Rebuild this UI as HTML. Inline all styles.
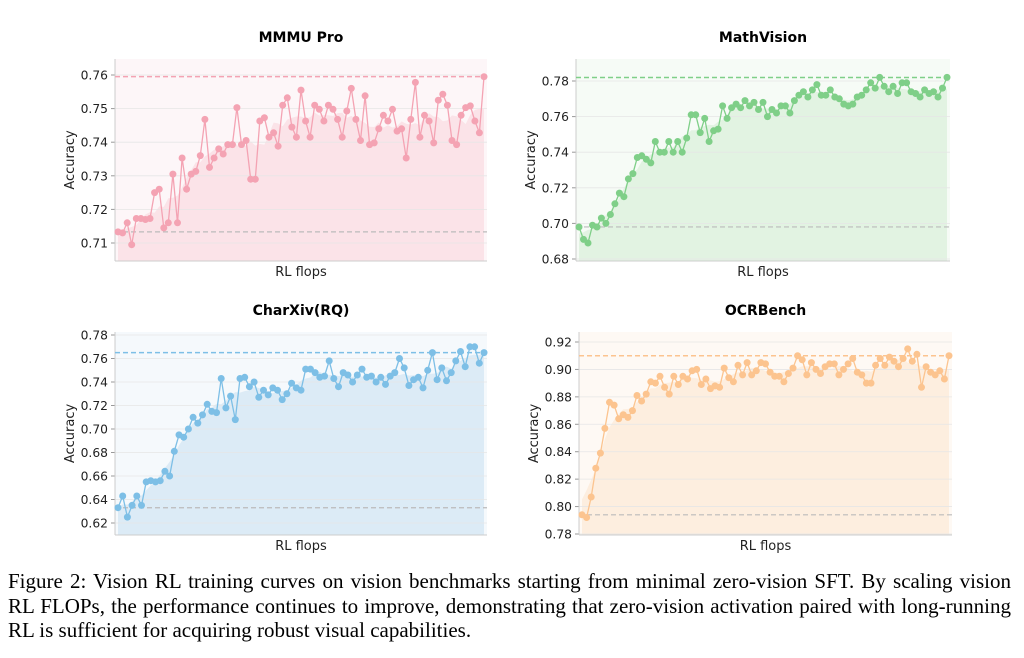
<!DOCTYPE html>
<html><head><meta charset="utf-8"><style>
body{margin:0;background:#fff;width:1024px;height:658px;overflow:hidden;position:relative}
svg{position:absolute;left:0;top:0}
.cap{position:absolute;left:8px;top:569px;width:1003px;font-family:"Liberation Serif",serif;font-size:21px;line-height:24.5px;color:#000;white-space:nowrap}
.cap div.j{text-align:justify;text-align-last:justify}
</style></head><body>
<svg id="s" width="1024" height="560" font-family="DejaVu Sans, Liberation Sans, sans-serif"></svg>
<div class="cap"><div class="j">Figure 2: Vision RL training curves on vision benchmarks starting from minimal zero-vision SFT. By scaling vision</div><div class="j">RL FLOPs, the performance continues to improve, demonstrating that zero-vision activation paired with long-running</div><div>RL is sufficient for acquiring robust visual capabilities.</div></div>
<script>
const charts=[
{t:"MMMU Pro",x0:115,x1:487,y0:59,y1:261,ticks:[0.71,0.72,0.73,0.74,0.75,0.76],fmt:2,ty0:0.71,py0:243,ty1:0.76,py1:75,base:0.7133,top:0.7595,c:"#f4a3b3",f:"#fbe3e8",bg:"#fdf6f8",
d:[0.7133,0.713,0.716,0.7095,0.7173,0.7173,0.717,0.7173,0.725,0.726,0.7145,0.716,0.7305,0.716,0.7353,0.726,0.7305,0.7313,0.736,0.7468,0.7325,0.7353,0.738,0.7365,0.7393,0.7393,0.7503,0.7393,0.7405,0.729,0.729,0.7463,0.7473,0.7415,0.7428,0.7388,0.751,0.7532,0.7445,0.7415,0.7555,0.7463,0.7415,0.751,0.7498,0.7463,0.751,0.7498,0.7468,0.7415,0.7493,0.756,0.7468,0.7405,0.7538,0.7393,0.7398,0.744,0.748,0.7463,0.7498,0.7433,0.744,0.7353,0.7468,0.7578,0.7415,0.748,0.7463,0.7398,0.7525,0.7543,0.751,0.7405,0.7393,0.748,0.7503,0.7508,0.7463,0.7428,0.7595]},
{t:"MathVision",x0:576,x1:950,y0:59,y1:261,ticks:[0.68,0.70,0.72,0.74,0.76,0.78],fmt:2,ty0:0.68,py0:259,ty1:0.78,py1:81,base:0.698,top:0.782,c:"#7fcf88",f:"#e2f3e2",bg:"#f6fbf6",
d:[0.698,0.691,0.689,0.699,0.698,0.703,0.700,0.705,0.711,0.717,0.715,0.725,0.728,0.737,0.738,0.736,0.734,0.746,0.740,0.740,0.746,0.740,0.746,0.740,0.748,0.761,0.761,0.751,0.759,0.746,0.752,0.753,0.766,0.759,0.765,0.767,0.765,0.769,0.766,0.768,0.764,0.768,0.760,0.764,0.762,0.766,0.766,0.762,0.769,0.772,0.774,0.771,0.775,0.778,0.772,0.772,0.775,0.771,0.770,0.767,0.766,0.767,0.771,0.772,0.775,0.779,0.776,0.782,0.777,0.774,0.777,0.773,0.779,0.779,0.774,0.773,0.771,0.775,0.773,0.774,0.771,0.776,0.782]},
{t:"CharXiv(RQ)",x0:115,x1:487,y0:332,y1:535,ticks:[0.62,0.64,0.66,0.68,0.70,0.72,0.74,0.76,0.78],fmt:2,ty0:0.62,py0:523,ty1:0.78,py1:335,base:0.633,top:0.765,c:"#7dbfe6",f:"#dcebf6",bg:"#f5f9fc",
d:[0.633,0.643,0.625,0.635,0.643,0.635,0.655,0.656,0.655,0.656,0.664,0.660,0.681,0.695,0.693,0.700,0.710,0.705,0.712,0.721,0.715,0.714,0.743,0.718,0.728,0.708,0.743,0.744,0.736,0.740,0.727,0.733,0.729,0.735,0.733,0.725,0.730,0.739,0.735,0.733,0.751,0.751,0.748,0.744,0.745,0.758,0.743,0.736,0.748,0.746,0.740,0.746,0.751,0.744,0.745,0.740,0.744,0.738,0.745,0.748,0.760,0.752,0.737,0.742,0.744,0.735,0.750,0.765,0.742,0.752,0.741,0.748,0.758,0.766,0.753,0.770,0.770,0.756,0.765]},
{t:"OCRBench",x0:579,x1:952,y0:332,y1:535,ticks:[0.78,0.80,0.82,0.84,0.86,0.88,0.90,0.92],fmt:2,ty0:0.78,py0:534,ty1:0.92,py1:342,base:0.794,top:0.910,c:"#fcc48f",f:"#fdeedf",bg:"#fef9f4",
d:[0.794,0.792,0.807,0.828,0.839,0.857,0.876,0.874,0.864,0.867,0.865,0.870,0.881,0.877,0.882,0.891,0.890,0.895,0.887,0.882,0.895,0.889,0.895,0.893,0.899,0.900,0.889,0.893,0.886,0.888,0.887,0.901,0.894,0.891,0.903,0.896,0.905,0.896,0.899,0.905,0.904,0.898,0.895,0.895,0.891,0.897,0.901,0.910,0.907,0.896,0.905,0.900,0.897,0.902,0.904,0.904,0.896,0.900,0.904,0.908,0.898,0.896,0.890,0.890,0.903,0.908,0.903,0.909,0.906,0.902,0.908,0.915,0.906,0.911,0.887,0.902,0.898,0.896,0.899,0.893,0.910]}
];
let h="";
for(const c of charts){
 const Y=v=>c.py0+(v-c.ty0)*(c.py1-c.py0)/(c.ty1-c.ty0);
 const n=c.d.length, X=i=>c.x0+3+i*(c.x1-c.x0-6)/(n-1);
 const mid=(c.x0+c.x1)/2;
 h+=`<text x="${mid}" y="${c.y0-17}" text-anchor="middle" font-weight="bold" font-size="14">${c.t}</text>`;
 h+=`<rect x="${c.x0}" y="${c.y0}" width="${c.x1-c.x0}" height="${c.y1-c.y0}" fill="${c.bg}"/>`;
 let sm=c.d.map((v,i)=>{let s=0,k=0;for(let j=i-3;j<=i+3;j++)if(j>=0&&j<n){s+=c.d[j];k++}return s/k});
 let p=`M${X(0)},${c.y1} `+sm.map((v,i)=>`L${X(i).toFixed(1)},${Y(v).toFixed(1)}`).join(" ")+` L${X(n-1)},${Y(c.d[n-1])} L${X(n-1)},${c.y1}Z`;
 h+=`<path d="${p}" fill="${c.f}"/>`;
 for(const t of c.ticks){const y=Y(t);h+=`<line x1="${c.x0}" x2="${c.x1}" y1="${y}" y2="${y}" stroke="#e6e6e6" stroke-width="0.8"/><line x1="${c.x0-4}" x2="${c.x0}" y1="${y}" y2="${y}" stroke="#999"/><text x="${c.x0-7}" y="${y+4.5}" text-anchor="end" font-size="12.3" fill="#222">${t.toFixed(2)}</text>`;}
 h+=`<line x1="${c.x0}" x2="${c.x0}" y1="${c.y0}" y2="${c.y1}" stroke="#ccc"/><line x1="${c.x0}" x2="${c.x1}" y1="${c.y1}" y2="${c.y1}" stroke="#ccc"/>`;
 h+=`<line x1="${c.x0}" x2="${c.x1}" y1="${Y(c.base)}" y2="${Y(c.base)}" stroke="#bbb" stroke-dasharray="5,3" stroke-width="1.2"/>`;
 h+=`<line x1="${c.x0}" x2="${c.x1}" y1="${Y(c.top)}" y2="${Y(c.top)}" stroke="${c.c}" stroke-dasharray="5,3" stroke-width="1.5"/>`;
 h+=`<polyline fill="none" stroke="${c.c}" stroke-width="1.3" points="${c.d.map((v,i)=>X(i).toFixed(1)+","+Y(v).toFixed(1)).join(" ")}"/>`;
 for(let i=0;i<n;i++)h+=`<circle cx="${X(i).toFixed(1)}" cy="${Y(c.d[i]).toFixed(1)}" r="3.5" fill="${c.c}"/>`;
 h+=`<text x="${mid}" y="${c.y1+15}" text-anchor="middle" font-size="13" fill="#222">RL flops</text>`;
 const cy=(c.y0+c.y1)/2;
 h+=`<text transform="translate(${c.x0-41},${cy}) rotate(-90)" text-anchor="middle" font-size="13" fill="#222">Accuracy</text>`;
}
document.getElementById("s").innerHTML=h;
</script>
</body></html>
